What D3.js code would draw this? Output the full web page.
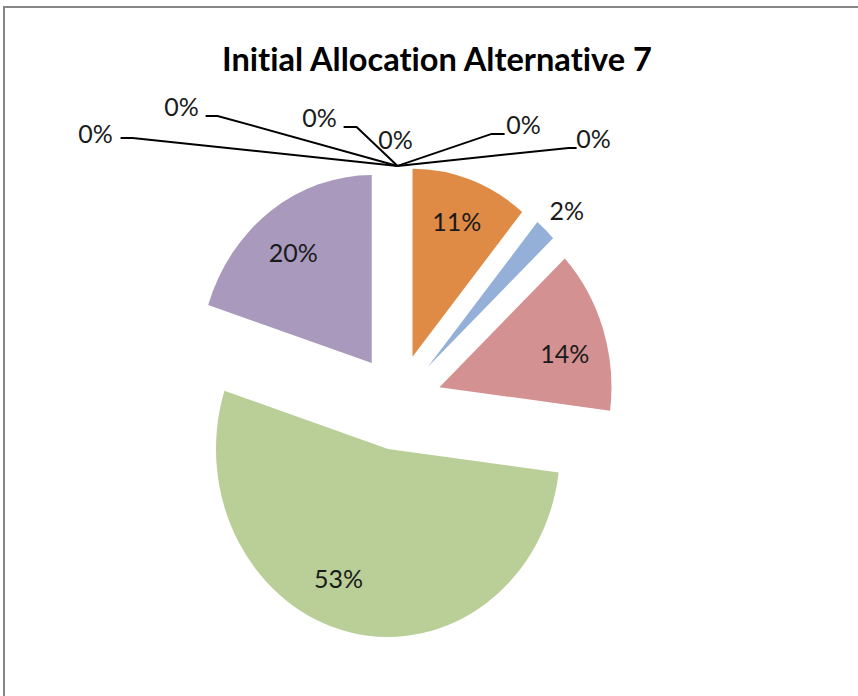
<!DOCTYPE html>
<html>
<head>
<meta charset="utf-8">
<script src="https://cdn.jsdelivr.net/npm/d3@7"></script>
<style>
  html, body { margin: 0; padding: 0; background: #fff; }
  svg { display: block; }
  text { font-variant-ligatures: none; font-feature-settings: "liga" 0, "clig" 0; }
</style>
</head>
<body>
<svg id="chart" width="858" height="696"></svg>
<script>
// ---- data ----
const title = "Initial Allocation Alternative 7";
const categories = ["Item 1", "Item 2", "Item 3", "Item 4", "Item 5", "Item 6", "Item 7", "Item 8", "Item 9", "Item 10", "Item 11"];
const values = [0, 0, 0, 0, 0, 11, 2, 14, 53, 20, 0];
const colors = ["#4F81BD", "#C0504D", "#9BBB59", "#8064A2", "#4BACC6", "#DF8A45", "#95B0D8", "#D49192", "#B9CF97", "#A99ABD", "#93CDDD"];

// ---- layout ----
const W = 858, H = 696;
const cx = 397.6, cy = 402;
const R = 172;          // radius (unscaled)
const sy = 1.093;       // vertical stretch of the picture
const explode = 44;     // explosion distance (unscaled)
// label placement for non-zero slices: [angle shift (deg), radius factor]
const labelPlace = {5: [0, 0.76], 6: [1, 1.16], 7: [4.5, 0.75], 8: [10, 0.75], 9: [-2, 0.74]};
// zero-value labels: text centre and leader knee/start, relative to the convergence point
const zeroLayout = [
  {t: [-302, -32], l: [[-277, -28], [-265, -28]]},
  {t: [-216, -59], l: [[-192, -50], [-180, -50]]},
  {t: [-78, -48],  l: [[-54, -39], [-41, -39]]},
  {t: [-2, -26],   l: null},
  {t: [126, -41],  l: [[107, -32], [94, -32]]},
  {t: [196, -27],  l: [[179, -18], [171, -18]]}
];

const svg = d3.select("#chart");

// chart frame
svg.append("rect")
  .attr("x", 4).attr("y", 7)
  .attr("width", W + 20).attr("height", H + 20)
  .attr("fill", "#fff")
  .attr("stroke", "#868686").attr("stroke-width", 2);

// title
const titleText = svg.append("text")
  .attr("x", 437).attr("y", 71)
  .attr("text-anchor", "middle")
  .attr("font-family", "Lato, 'Open Sans', sans-serif")
  .attr("font-weight", "bold")
  .attr("font-size", 30)
  .attr("fill", "#000")
  .text(title);
const tw = titleText.node().getComputedTextLength();
titleText.attr("font-size", 30 * 430 / tw);

const data = categories.map((c, i) => ({name: c, value: values[i], color: colors[i], idx: i}));
const pie = d3.pie().value(d => d.value).sort(null);
const arcs = pie(data);
const arc = d3.arc().innerRadius(0).outerRadius(R);

const gPie = svg.append("g").attr("transform", `translate(${cx},${cy}) scale(1,${sy})`);

function offset(a, dist) {
  const m = (a.startAngle + a.endAngle) / 2;
  return [dist * Math.sin(m), -dist * Math.cos(m)];
}

gPie.selectAll("path.slice")
  .data(arcs.filter(a => a.data.value > 0))
  .join("path")
  .attr("class", "slice")
  .attr("transform", a => { const o = offset(a, explode); return `translate(${o[0]},${o[1]})`; })
  .attr("d", arc)
  .attr("fill", a => a.data.color);

const fontLab = "Lato, 'Open Sans', sans-serif";

// labels for non-zero slices
arcs.filter(a => a.data.value > 0).forEach(a => {
  const o = offset(a, explode);
  const pl = labelPlace[a.data.idx] || [0, 0.75];
  const m = (a.startAngle + a.endAngle) / 2 + pl[0] * Math.PI / 180;
  const r = pl[1] * R;
  const px = o[0] + r * Math.sin(m);
  const py = o[1] - r * Math.cos(m);
  svg.append("text")
    .attr("x", cx + px).attr("y", cy + py * sy)
    .attr("dy", "0.36em")
    .attr("text-anchor", "middle")
    .attr("font-family", fontLab)
    .attr("font-size", 25)
    .attr("fill", "#1a1a1a")
    .text(Math.round(a.data.value) + "%");
});

// zero-value labels with leader lines
const zeros = arcs.filter(a => a.data.value === 0);
const z0 = zeros[0];
const zo = offset(z0, explode);
const px0 = cx + zo[0] + R * Math.sin(z0.startAngle);
const py0 = cy + (zo[1] - R * Math.cos(z0.startAngle)) * sy;

zeros.forEach((a, i) => {
  const L = zeroLayout[i % zeroLayout.length];
  if (L.l) {
    const pts = [[L.l[0][0] + px0, L.l[0][1] + py0], [L.l[1][0] + px0, L.l[1][1] + py0], [px0, py0]];
    svg.append("path")
      .attr("d", d3.line()(pts))
      .attr("fill", "none")
      .attr("stroke", "#000")
      .attr("stroke-width", 2);
  }
});
zeros.forEach((a, i) => {
  const L = zeroLayout[i % zeroLayout.length];
  svg.append("text")
    .attr("x", px0 + L.t[0]).attr("y", py0 + L.t[1])
    .attr("dy", "0.36em")
    .attr("text-anchor", "middle")
    .attr("font-family", fontLab)
    .attr("font-size", 25)
    .attr("fill", "#1a1a1a")
    .text(Math.round(a.data.value) + "%");
});
</script>
</body>
</html>
